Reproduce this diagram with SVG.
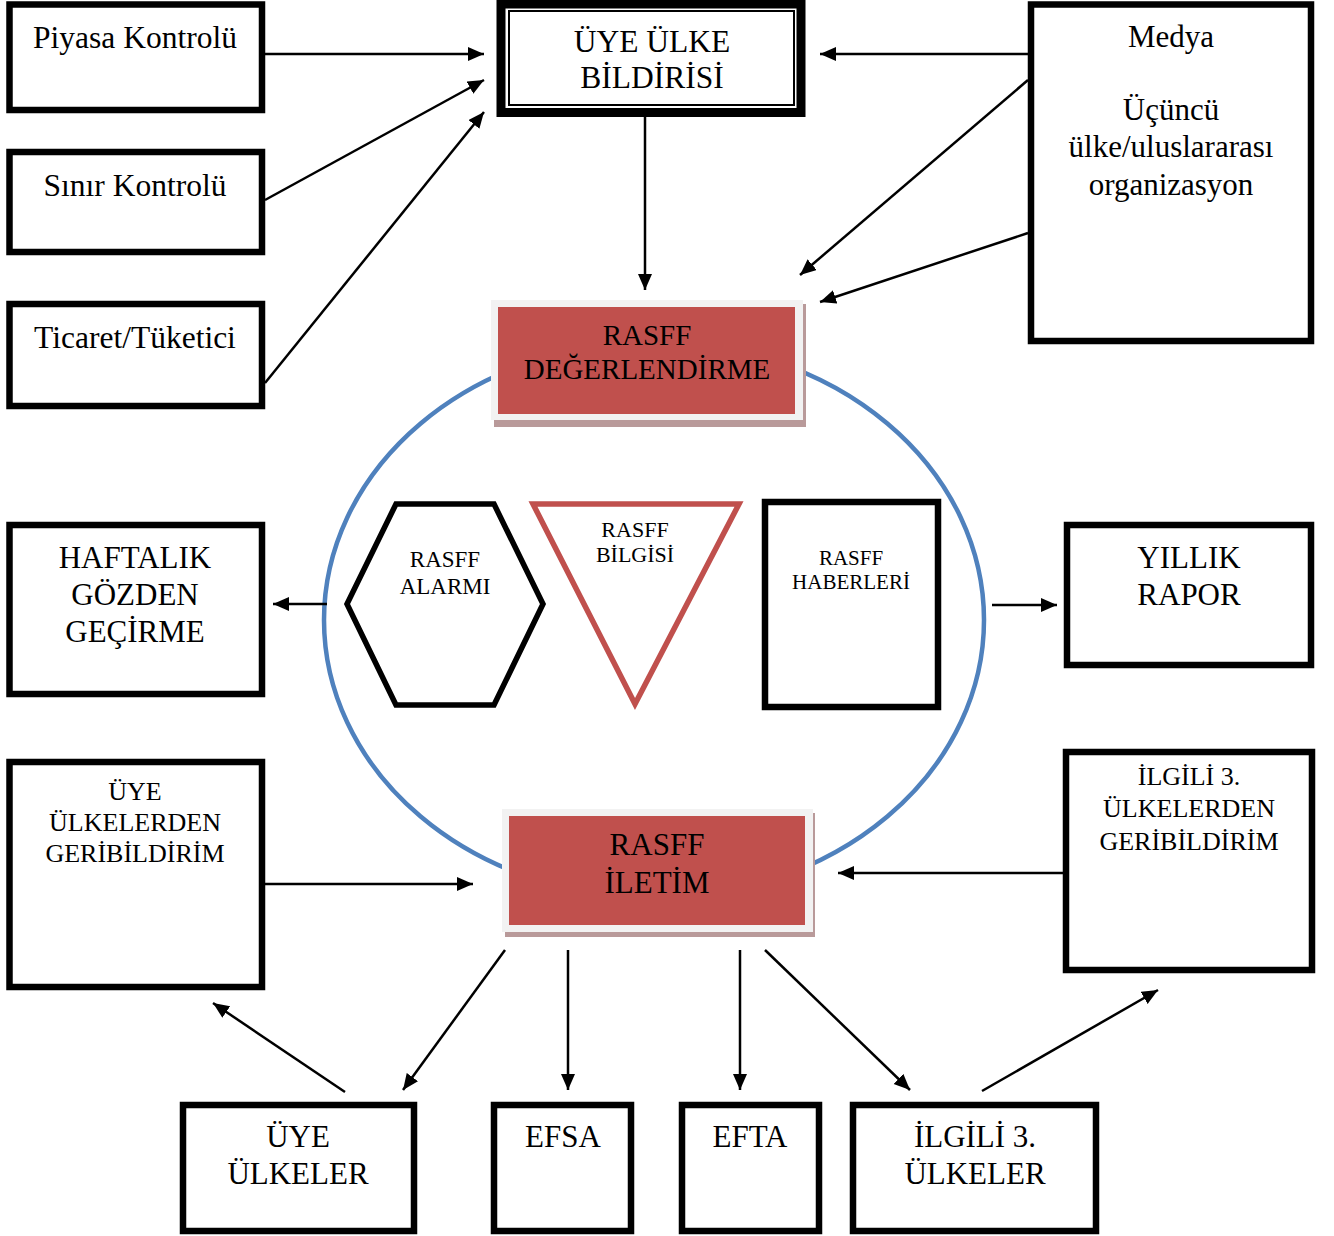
<svg xmlns="http://www.w3.org/2000/svg" width="1334" height="1236" viewBox="0 0 1334 1236">
<style>
text{font-family:"Liberation Serif","Times New Roman",serif;fill:#000;text-anchor:middle}
.box{fill:#fff;stroke:#000;stroke-width:6.5}
.conn{stroke:#000;stroke-width:2.5;fill:none;marker-end:url(#ah)}
.frame{fill:#f2f2f2}
.shadow{fill:#b99a9a}
.red{fill:#c0504d}
.t32{font-size:31.5px}
.t31{font-size:31px}
.t29{font-size:29px}
.t26{font-size:26px}
.t23{font-size:23px}
.t22{font-size:22px}
.t21{font-size:21px}
</style>
<defs>
<marker id="ah" markerUnits="userSpaceOnUse" markerWidth="17" markerHeight="15" refX="16" refY="7" orient="auto">
<path d="M0,0 L16,7 L0,14 z" fill="#000"/>
</marker>
</defs>
<rect width="1334" height="1236" fill="#fff"/>

<ellipse id="cycle" cx="654" cy="620" rx="330" ry="278" fill="none" stroke="#4f81bd" stroke-width="4.5"/>

<g id="connectors">
<line class="conn" x1="265" y1="54" x2="484" y2="54"/>
<line class="conn" x1="265" y1="200" x2="484" y2="80"/>
<line class="conn" x1="265" y1="383" x2="484" y2="112"/>
<line class="conn" x1="1028" y1="54" x2="820" y2="54"/>
<line class="conn" x1="1028" y1="80" x2="800" y2="275"/>
<line class="conn" x1="1028" y1="233" x2="820" y2="302"/>
<line class="conn" x1="645" y1="117" x2="645" y2="290"/>
<line class="conn" x1="327" y1="604" x2="273" y2="604"/>
<line class="conn" x1="992" y1="605" x2="1057" y2="605"/>
<line class="conn" x1="265" y1="884" x2="473" y2="884"/>
<line class="conn" x1="1063" y1="873" x2="838" y2="873"/>
<line class="conn" x1="505" y1="950" x2="403" y2="1090"/>
<line class="conn" x1="568" y1="950" x2="568" y2="1090"/>
<line class="conn" x1="740" y1="950" x2="740" y2="1090"/>
<line class="conn" x1="765" y1="950" x2="910" y2="1090"/>
<line class="conn" x1="345" y1="1092" x2="213" y2="1003"/>
<line class="conn" x1="982" y1="1091" x2="1158" y2="990"/>
</g>

<g id="piyasa">
<rect class="box" x="9.5" y="4.5" width="252.5" height="105.5"/>
<text class="t32" x="135" y="48">Piyasa Kontrolü</text>
</g>
<g id="sinir">
<rect class="box" x="9.5" y="152" width="252.5" height="100"/>
<text class="t32" x="135" y="196">Sınır Kontrolü</text>
</g>
<g id="ticaret">
<rect class="box" x="9.5" y="304" width="252.5" height="102"/>
<text class="t32" x="135" y="348">Ticaret/Tüketici</text>
</g>

<g id="uye-ulke-bildirisi">
<rect x="501" y="4" width="300" height="108.5" fill="#fff" stroke="#000" stroke-width="9"/>
<rect x="509" y="11" width="285" height="94" fill="none" stroke="#000" stroke-width="2"/>
<text class="t32" x="652" y="52">ÜYE ÜLKE</text>
<text class="t32" x="652" y="88">BİLDİRİSİ</text>
</g>

<g id="medya">
<rect class="box" x="1031" y="4.5" width="280" height="336.5"/>
<text class="t31" x="1171" y="47">Medya</text>
<text class="t31" x="1171" y="120">Üçüncü</text>
<text class="t31" x="1171" y="157">ülke/uluslararası</text>
<text class="t31" x="1171" y="195">organizasyon</text>
</g>

<g id="degerlendirme">
<rect class="shadow" x="494" y="304" width="312" height="123"/>
<rect class="frame" x="491" y="300" width="312" height="120"/>
<rect class="red" x="498" y="307" width="297" height="107"/>
<text class="t29" x="647" y="345">RASFF</text>
<text class="t29" x="647" y="379">DEĞERLENDİRME</text>
</g>

<g id="haftalik">
<rect class="box" x="9.5" y="525" width="252.5" height="169"/>
<text class="t31" x="135" y="568">HAFTALIK</text>
<text class="t31" x="135" y="605">GÖZDEN</text>
<text class="t31" x="135" y="642">GEÇİRME</text>
</g>

<g id="alarm">
<polygon points="396,504 494,504 543,604 494,705 396,705 347,604" fill="#fff" stroke="#000" stroke-width="5.5"/>
<text class="t23" x="445" y="567">RASFF</text>
<text class="t23" x="445" y="594">ALARMI</text>
</g>

<g id="bilgi">
<polygon points="533,504 739,504 635,704" fill="#fff" stroke="#c0504d" stroke-width="5.5"/>
<text class="t22" x="635" y="537">RASFF</text>
<text class="t22" x="635" y="562">BİLGİSİ</text>
</g>

<g id="haberler">
<rect class="box" x="765" y="502" width="173" height="205"/>
<text class="t21" x="851" y="565">RASFF</text>
<text class="t21" x="851" y="589">HABERLERİ</text>
</g>

<g id="yillik">
<rect class="box" x="1067" y="525" width="244" height="140"/>
<text class="t31" x="1189" y="568">YILLIK</text>
<text class="t31" x="1189" y="605">RAPOR</text>
</g>

<g id="uye-geribildirim">
<rect class="box" x="9.5" y="762" width="252.5" height="225"/>
<text class="t26" x="135" y="800">ÜYE</text>
<text class="t26" x="135" y="831">ÜLKELERDEN</text>
<text class="t26" x="135" y="862">GERİBİLDİRİM</text>
</g>

<g id="iletim">
<rect class="shadow" x="505" y="813" width="310" height="124"/>
<rect class="frame" x="502" y="809" width="311" height="123"/>
<rect class="red" x="509" y="816" width="296" height="109"/>
<text class="t31" x="657" y="855">RASFF</text>
<text class="t31" x="657" y="893">İLETİM</text>
</g>

<g id="ilgili-geribildirim">
<rect class="box" x="1066" y="752" width="246" height="218"/>
<text class="t26" x="1189" y="785">İLGİLİ 3.</text>
<text class="t26" x="1189" y="817">ÜLKELERDEN</text>
<text class="t26" x="1189" y="850">GERİBİLDİRİM</text>
</g>

<g id="uye-ulkeler">
<rect class="box" x="183" y="1105" width="231" height="126"/>
<text class="t31" x="298" y="1147">ÜYE</text>
<text class="t31" x="298" y="1184">ÜLKELER</text>
</g>
<g id="efsa">
<rect class="box" x="494" y="1105" width="137" height="126"/>
<text class="t31" x="563" y="1147">EFSA</text>
</g>
<g id="efta">
<rect class="box" x="682" y="1105" width="137" height="126"/>
<text class="t31" x="750" y="1147">EFTA</text>
</g>
<g id="ilgili-ulkeler">
<rect class="box" x="853" y="1105" width="243" height="126"/>
<text class="t31" x="975" y="1147">İLGİLİ 3.</text>
<text class="t31" x="975" y="1184">ÜLKELER</text>
</g>
</svg>
